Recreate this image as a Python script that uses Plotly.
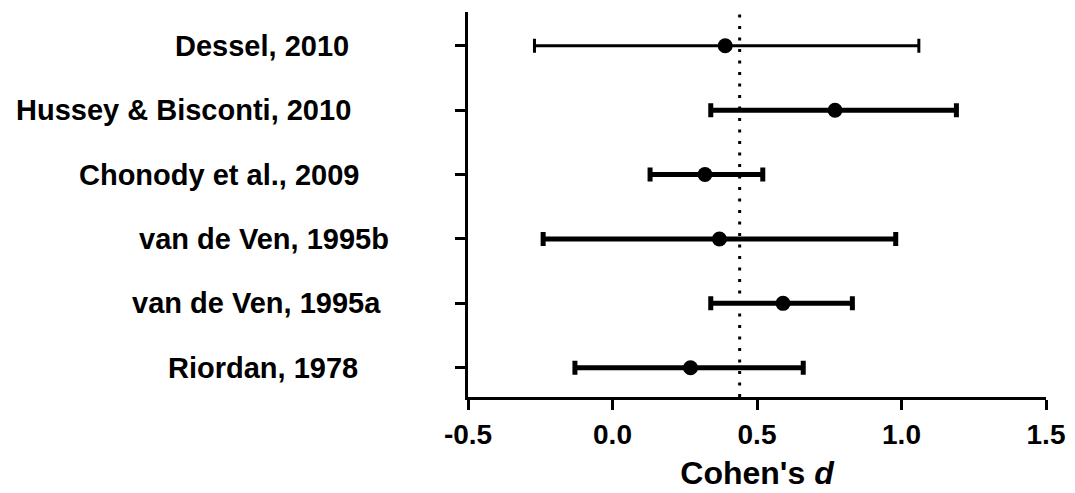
import plotly.graph_objects as go

studies = ["Dessel, 2010", "Hussey & Bisconti, 2010", "Chonody et al., 2009",
           "van de Ven, 1995b", "van de Ven, 1995a", "Riordan, 1978"]
effect_d = [0.39, 0.77, 0.32, 0.37, 0.59, 0.27]
ci_low = [-0.27, 0.34, 0.13, -0.24, 0.34, -0.13]
ci_high = [1.06, 1.19, 0.52, 0.98, 0.83, 0.66]
pooled_d = 0.44
x_ticks = [-0.5, 0.0, 0.5, 1.0, 1.5]
x_ticklabels = ["-0.5", "0.0", "0.5", "1.0", "1.5"]

n = len(studies)
row_pos = [n - 1 - i for i in range(n)]
bar_thick = [3, 5, 5, 5, 5, 5]
label_right = [348, 350, 358, 388, 380, 357]

FONT = "Arial, Liberation Sans, sans-serif"
fig = go.Figure()

for i in range(n):
    fig.add_trace(go.Scatter(
        x=[effect_d[i]], y=[row_pos[i]], mode="markers",
        marker=dict(symbol="circle", size=15, color="black"),
        error_x=dict(type="data", symmetric=False,
                     array=[ci_high[i] - effect_d[i]],
                     arrayminus=[effect_d[i] - ci_low[i]],
                     color="black", thickness=bar_thick[i], width=7),
        showlegend=False, hoverinfo="skip"))

fig.add_shape(type="line", xref="x", yref="paper", x0=pooled_d, x1=pooled_d,
              y0=0, y1=1, line=dict(color="black", width=3, dash="3px,8.5px"))

for i in range(n):
    fig.add_annotation(text=studies[i], xref="paper", yref="y", x=0, y=row_pos[i],
                       xanchor="right", yanchor="middle", showarrow=False,
                       xshift=label_right[i] - 468 + 3,
                       font=dict(family=FONT, size=29, color="black", weight="bold"))

fig.update_layout(
    width=1067, height=485,
    margin=dict(l=460, r=29, t=4, b=96),
    plot_bgcolor="white", paper_bgcolor="white",
    xaxis=dict(range=[-0.5, 1.5], tickvals=x_ticks, ticktext=x_ticklabels,
               showgrid=False, zeroline=False, showline=True, linecolor="black",
               linewidth=3, ticks="outside", ticklen=10, tickwidth=3,
               tickcolor="black",
               tickfont=dict(family=FONT, size=28, color="black", weight="bold"),
               title=dict(text="Cohen's <i>d</i>", standoff=14,
                          font=dict(family=FONT, size=32, color="black", weight="bold"))),
    yaxis=dict(range=[-0.455, 5.525], tickvals=row_pos, showticklabels=False,
               showgrid=False, zeroline=False, showline=True, linecolor="black",
               linewidth=3, ticks="outside", ticklen=10, tickwidth=3,
               tickcolor="black"),
)

fig.write_html("out.html")
